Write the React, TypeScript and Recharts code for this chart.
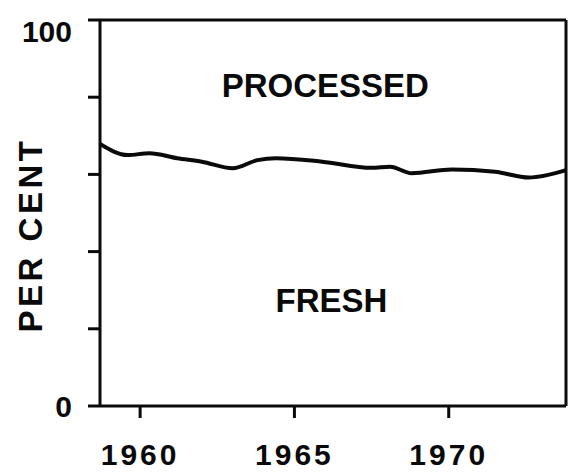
import React from "react";
import { LineChart, Line, XAxis, YAxis, ReferenceLine, ReferenceDot } from "recharts";

// share of the crop sold fresh, per cent (the rest is processed)
const years = [1958.7, 1959.6, 1960.3, 1961.2, 1962.0, 1963.0, 1963.8, 1964.4, 1965.9, 1967.5, 1968.1, 1968.8, 1970.1, 1971.5, 1972.6, 1973.8];
const freshShare = [67.9, 65.0, 65.5, 64.2, 63.3, 61.6, 63.7, 64.2, 63.3, 61.7, 62.0, 60.3, 61.3, 60.7, 59.2, 61.1];

const yearTicks = [1960, 1965, 1970];
const percentTicks = [0, 20, 40, 60, 80, 100];
const labeledPercents = [0, 100];

const data = years.map((year, i) => ({ year, fresh: freshShare[i] }));

const FONT = "'Liberation Sans', Arial, sans-serif";
const INK = "#0a0a0a";

function PercentTick({ x, y, payload }: any) {
  if (!labeledPercents.includes(payload.value)) return null;
  const dy = payload.value === 100 ? 22 : 11;
  return (
    <text x={x} y={y + dy} textAnchor="end" fontFamily={FONT} fontWeight={700} fontSize={30} fill={INK}>
      {payload.value}
    </text>
  );
}

function AxisTitle({ viewBox }: any) {
  const cx = viewBox.x + 42;
  const cy = viewBox.y + viewBox.height / 2 + 22;
  return (
    <text
      x={cx}
      y={cy}
      transform={`rotate(-90 ${cx} ${cy})`}
      textAnchor="middle"
      fontFamily={FONT}
      fontWeight={700}
      fontSize={33}
      letterSpacing={3.5}
      fill={INK}
    >
      PER CENT
    </text>
  );
}

export default function App() {
  return (
    <div style={{ position: "absolute", left: 0, top: 0, background: "#fff" }}>
      <LineChart width={571} height={476} data={data} margin={{ top: 20, right: 5, left: 0, bottom: 10 }}>
        <XAxis
          dataKey="year"
          type="number"
          domain={[1958.7, 1973.8]}
          ticks={yearTicks}
          allowDataOverflow
          height={60}
          tickSize={12}
          tickMargin={26}
          stroke={INK}
          strokeWidth={3}
          tick={{ fontSize: 30, fontWeight: 700, fontFamily: FONT, fill: INK, letterSpacing: 3 }}
        />
        <YAxis
          type="number"
          domain={[0, 100]}
          ticks={percentTicks}
          width={100}
          tickSize={12}
          tickMargin={16}
          stroke={INK}
          strokeWidth={3}
          tick={<PercentTick />}
          label={<AxisTitle />}
        />
        <ReferenceLine y={100} stroke={INK} strokeWidth={3} />
        <ReferenceLine x={1973.8} stroke={INK} strokeWidth={3} />
        <ReferenceDot
          x={1966.0}
          y={83}
          r={0}
          stroke="none"
          label={{ value: "PROCESSED", position: "center", fontSize: 33, fontWeight: 700, fontFamily: FONT, fill: INK }}
        />
        <ReferenceDot
          x={1966.2}
          y={27.3}
          r={0}
          stroke="none"
          label={{ value: "FRESH", position: "center", fontSize: 33, fontWeight: 700, fontFamily: FONT, fill: INK }}
        />
        <Line
          dataKey="fresh"
          type="monotone"
          stroke={INK}
          strokeWidth={4}
          dot={false}
          isAnimationActive={false}
        />
      </LineChart>
    </div>
  );
}
